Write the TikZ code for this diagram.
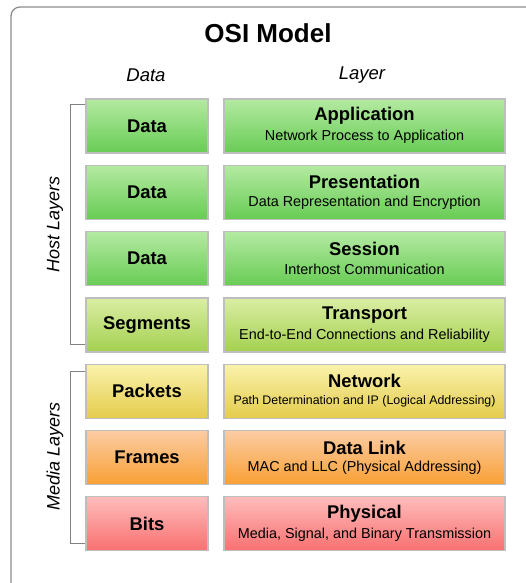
\documentclass[tikz,border=0pt]{standalone}
\usepackage{xcolor}
\usepackage{fontspec}
\setmainfont{Liberation Sans}
\usepackage{tikz}

\definecolor{frameGray}{RGB}{140,140,140}
\definecolor{edgeGray}{RGB}{190,190,190}
\definecolor{lineGray}{RGB}{130,130,130}
\definecolor{greenTop}{RGB}{180,234,162}
\definecolor{greenBot}{RGB}{104,204,84}
\definecolor{limeTop}{RGB}{218,238,164}
\definecolor{limeBot}{RGB}{164,208,80}
\definecolor{yellowTop}{RGB}{250,242,172}
\definecolor{yellowBot}{RGB}{228,204,76}
\definecolor{orangeTop}{RGB}{252,204,164}
\definecolor{orangeBot}{RGB}{248,160,52}
\definecolor{redTop}{RGB}{255,188,188}
\definecolor{redBot}{RGB}{248,112,112}

\tikzset{
	layerbox/.style={draw=edgeGray, line width=1.2pt, inner sep=0, minimum height=54pt},
	unitbox/.style={layerbox, minimum width=122pt, font=\fontsize{18.4}{21}\selectfont\bfseries},
	namebox/.style={layerbox, minimum width=281pt},
	nametext/.style={font=\fontsize{18.4}{21}\selectfont\bfseries},
	subtext/.style={font=\fontsize{14.4}{17}\selectfont},
	headtext/.style={font=\fontsize{18.5}{21}\selectfont\itshape},
	bracket/.style={draw=lineGray, line width=1.1pt},
}

\begin{document}
\begin{tikzpicture}[x=1pt, y=-1pt]
	\useasboundingbox (0, 0) rectangle (526, 583);
	% Frame and headings:
	\draw[frameGray, line width=1.3pt, rounded corners=9pt] (11, 600) -- (11, 7) -- (545, 7);
	\node[font=\fontsize{26}{30}\selectfont\bfseries] (Title) at (268, 33){OSI Model};
	\node[headtext] (HeadData) at (146, 75){Data};
	\node[headtext] (HeadLayer) at (362, 75){Layer};
	% Data units:
	\node[unitbox, top color=greenTop, bottom color=greenBot] (U1) at (147, 126){Data};
	\node[unitbox, top color=greenTop, bottom color=greenBot] (U2) at (147, 192.3){Data};
	\node[unitbox, top color=greenTop, bottom color=greenBot] (U3) at (147, 258.6){Data};
	\node[unitbox, top color=limeTop, bottom color=limeBot] (U4) at (147, 324.9){Segments};
	\node[unitbox, top color=yellowTop, bottom color=yellowBot] (U5) at (147, 391.2){Packets};
	\node[unitbox, top color=orangeTop, bottom color=orangeBot] (U6) at (147, 457.5){Frames};
	\node[unitbox, top color=redTop, bottom color=redBot] (U7) at (147, 523.8){Bits};
	% Layers:
	\node[namebox, top color=greenTop, bottom color=greenBot] (L1) at (364.5, 126){};
	\node[nametext] (L1name) at ([yshift=10pt]L1.center){Application};
	\node[subtext] (L1sub) at ([yshift=-10.5pt]L1.center){Network Process to Application};
	\node[namebox, top color=greenTop, bottom color=greenBot] (L2) at (364.5, 192.3){};
	\node[nametext] (L2name) at ([yshift=10pt]L2.center){Presentation};
	\node[subtext] (L2sub) at ([yshift=-10.5pt]L2.center){Data Representation and Encryption};
	\node[namebox, top color=greenTop, bottom color=greenBot] (L3) at (364.5, 258.6){};
	\node[nametext] (L3name) at ([yshift=10pt]L3.center){Session};
	\node[subtext] (L3sub) at ([yshift=-10.5pt]L3.center){Interhost Communication};
	\node[namebox, top color=limeTop, bottom color=limeBot] (L4) at (364.5, 324.9){};
	\node[nametext] (L4name) at ([yshift=10pt]L4.center){Transport};
	\node[subtext] (L4sub) at ([yshift=-10.5pt]L4.center){End-to-End Connections and Reliability};
	\node[namebox, top color=yellowTop, bottom color=yellowBot] (L5) at (364.5, 391.2){};
	\node[nametext] (L5name) at ([yshift=10pt]L5.center){Network};
	\node[subtext, font=\fontsize{12.4}{15}\selectfont] (L5sub) at ([yshift=-10.5pt]L5.center){Path Determination and IP (Logical Addressing)};
	\node[namebox, top color=orangeTop, bottom color=orangeBot] (L6) at (364.5, 457.5){};
	\node[nametext] (L6name) at ([yshift=10pt]L6.center){Data Link};
	\node[subtext] (L6sub) at ([yshift=-10.5pt]L6.center){MAC and LLC (Physical Addressing)};
	\node[namebox, top color=redTop, bottom color=redBot] (L7) at (364.5, 523.8){};
	\node[nametext] (L7name) at ([yshift=10pt]L7.center){Physical};
	\node[subtext] (L7sub) at ([yshift=-10.5pt]L7.center){Media, Signal, and Binary Transmission};
	% Brackets:
	\draw[bracket] ([yshift=-6pt]U1.north west) -- ++(-15, 0) |- ([yshift=8pt]U4.south west);
	\draw[bracket] ([yshift=-8pt]U5.north west) -- ++(-15, 0) |- ([yshift=8pt]U7.south west);
	\node[headtext, font=\fontsize{18}{21}\selectfont\itshape, rotate=90] (Host) at (55, 224){Host Layers};
	\node[headtext, font=\fontsize{18}{21}\selectfont\itshape, rotate=90] (Media) at (55, 456){Media Layers};
\end{tikzpicture}
\end{document}
